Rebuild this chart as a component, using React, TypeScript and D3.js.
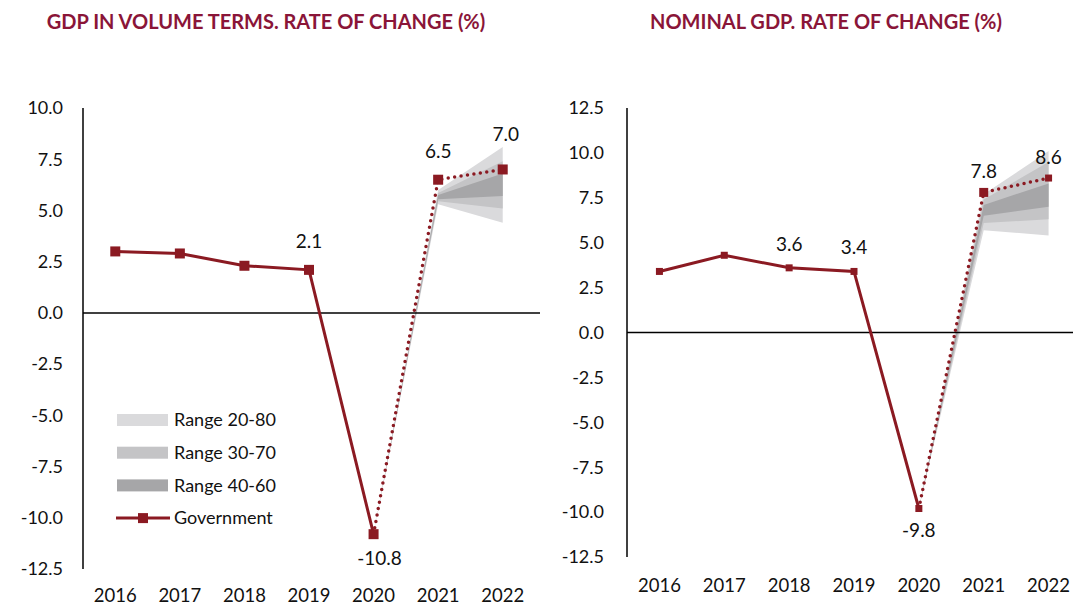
import React from "react";
import * as d3 from "d3";

const years = ["2016", "2017", "2018", "2019", "2020", "2021", "2022"];
const realGdp = [3.0, 2.9, 2.3, 2.1, -10.8, 6.5, 7.0];
const nominalGdp = [3.4, 4.3, 3.6, 3.4, -9.8, 7.8, 8.6];
const fanYears = ["2020", "2021", "2022"];
// [low, high] for each fan year
const realR2080 = [[-10.8, -10.8], [5.3, 6.0], [4.4, 8.1]];
const realR3070 = [[-10.8, -10.8], [5.45, 5.85], [5.1, 7.4]];
const realR4060 = [[-10.8, -10.8], [5.55, 5.75], [5.7, 6.8]];
const nomR2080 = [[-9.8, -9.8], [5.7, 7.7], [5.4, 10.1]];
const nomR3070 = [[-9.8, -9.8], [6.1, 7.4], [6.3, 9.5]];
const nomR4060 = [[-9.8, -9.8], [6.5, 7.1], [7.0, 8.3]];
const leftTicks = [10, 7.5, 5, 2.5, 0, -2.5, -5, -7.5, -10, -12.5];
const rightTicks = [12.5, 10, 7.5, 5, 2.5, 0, -2.5, -5, -7.5, -10, -12.5];
const legendItems = ["Range 20-80", "Range 30-70", "Range 40-60", "Government"];
const realLabelIdx = [3, 4, 5, 6];
const nomLabelIdx = [2, 3, 4, 5, 6];

const RED = "#8B1A22";
const TITLE = "#8A1538";
const FAN = ["#DADADC", "#C4C4C6", "#A6A6A8"];
const FONT = "Lato, 'Open Sans', sans-serif";

const fmt1 = d3.format(".1f");
const fmt = (v: number) => fmt1(v).replace("\u2212", "-");

type PanelProps = {
  title: string;
  titleX: number;
  values: number[];
  fans: number[][][];
  ticks: number[];
  domain: [number, number];
  yRange: [number, number];
  xRange: [number, number];
  zeroEnd: number;
  tickLabelX: number;
  yearY: number;
  labelIdx: number[];
  labelOffsets: number[][];
  markerSize: (i: number) => number;
};

function Panel(p: PanelProps) {
  const x = d3.scaleBand<string>().domain(years).range(p.xRange);
  const cx = (yr: string) => (x(yr) as number) + x.bandwidth() / 2;
  const y = d3.scaleLinear().domain(p.domain).range(p.yRange);
  const area = d3
    .area<number[]>()
    .x((_, i) => cx(fanYears[i]))
    .y0((d) => y(d[0]))
    .y1((d) => y(d[1]));
  const solid = d3
    .line<number>()
    .x((_, i) => cx(years[i]))
    .y((d) => y(d));
  const solidVals = p.values.slice(0, 5);
  const dotted = d3
    .line<number>()
    .x((_, i) => cx(years[i + 4]))
    .y((d) => y(d));
  const dottedVals = p.values.slice(4);
  return (
    <g>
      <text
        x={p.titleX}
        y={29}
        textAnchor="middle"
        fill={TITLE}
        fontWeight="bold"
        fontSize={20}
        fontFamily={FONT}
      >
        {p.title}
      </text>
      {p.fans.map((f, i) => (
        <path key={i} d={area(f) as string} fill={FAN[i]} />
      ))}
      <line
        x1={p.xRange[0]}
        x2={p.xRange[0]}
        y1={y(p.domain[1])}
        y2={y(p.domain[0])}
        stroke="#000"
        strokeWidth={1.5}
      />
      <line
        x1={p.xRange[0]}
        x2={p.zeroEnd}
        y1={y(0)}
        y2={y(0)}
        stroke="#000"
        strokeWidth={1.5}
      />
      {p.ticks.map((t) => (
        <text
          key={t}
          x={p.tickLabelX}
          y={y(t)}
          dy="0.35em"
          textAnchor="end"
          fontSize={18}
          fontFamily={FONT}
          fill="#111"
        >
          {fmt(t)}
        </text>
      ))}
      {years.map((yr) => (
        <text
          key={yr}
          x={cx(yr)}
          y={p.yearY}
          textAnchor="middle"
          fontSize={18.5}
          fontFamily={FONT}
          fill="#111"
        >
          {yr}
        </text>
      ))}
      <path d={solid(solidVals) as string} fill="none" stroke={RED} strokeWidth={3} />
      <path
        d={dotted(dottedVals) as string}
        fill="none"
        stroke={RED}
        strokeWidth={3.5}
        strokeDasharray="0 6.5"
        strokeLinecap="round"
      />
      {p.values.map((v, i) => {
        const s = p.markerSize(i);
        return (
          <rect
            key={i}
            x={cx(years[i]) - s / 2}
            y={y(v) - s / 2}
            width={s}
            height={s}
            fill={RED}
          />
        );
      })}
      {p.labelIdx.map((i, k) => (
        <text
          key={i}
          x={cx(years[i]) + p.labelOffsets[k][0]}
          y={y(p.values[i]) + p.labelOffsets[k][1]}
          textAnchor="middle"
          fontSize={19}
          fontFamily={FONT}
          fill="#111"
        >
          {fmt(p.values[i])}
        </text>
      ))}
    </g>
  );
}

export default function App() {
  return (
    <svg
      width={1073}
      height={606}
      style={{ position: "absolute", left: 0, top: 0, background: "#fff" }}
    >
      <Panel
        title="GDP IN VOLUME TERMS. RATE OF CHANGE (%)"
        titleX={266}
        values={realGdp}
        fans={[realR2080, realR3070, realR4060]}
        ticks={leftTicks}
        domain={[-12.5, 10]}
        yRange={[569, 108]}
        xRange={[83, 535]}
        zeroEnd={540}
        tickLabelX={63}
        yearY={602}
        labelIdx={realLabelIdx}
        labelOffsets={[[0, -22], [6, 31], [0, -22], [3, -28]]}
        markerSize={() => 10}
      />
      <Panel
        title="NOMINAL GDP. RATE OF CHANGE (%)"
        titleX={826}
        values={nominalGdp}
        fans={[nomR2080, nomR3070, nomR4060]}
        ticks={rightTicks}
        domain={[-12.5, 12.5]}
        yRange={[557, 108]}
        xRange={[627, 1081]}
        zeroEnd={1073}
        tickLabelX={604}
        yearY={592}
        labelIdx={nomLabelIdx}
        labelOffsets={[[0, -17], [0, -17], [0, 28], [0, -14], [0, -14]]}
        markerSize={(i) => (i === 5 ? 9 : 7)}
      />
      <g fontFamily={FONT} fontSize={18} fill="#111">
        {legendItems.map((name, i) => {
          const yy = 420 + i * 32.7;
          return (
            <g key={name}>
              {i < 3 ? (
                <rect x={117} y={yy - 6} width={51} height={12} fill={FAN[i]} />
              ) : (
                <g>
                  <line x1={116} x2={170} y1={yy} y2={yy} stroke={RED} strokeWidth={3} />
                  <rect x={138} y={yy - 5} width={10} height={10} fill={RED} />
                </g>
              )}
              <text x={174} y={yy} dy="0.35em">
                {name}
              </text>
            </g>
          );
        })}
      </g>
    </svg>
  );
}
